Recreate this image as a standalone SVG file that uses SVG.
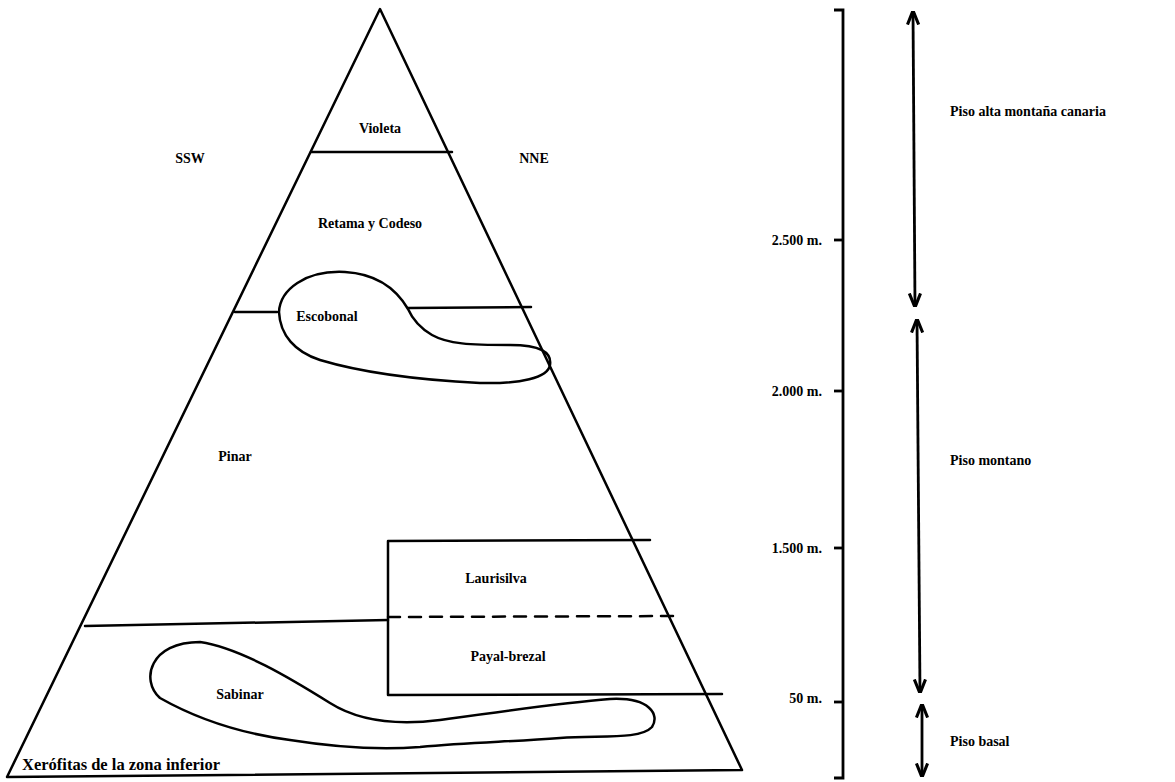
<svg xmlns="http://www.w3.org/2000/svg" width="1175" height="782" viewBox="0 0 1175 782">
<style>
.ln{fill:none;stroke:#000;stroke-width:2.5;stroke-linecap:round;stroke-linejoin:round}
.tk{fill:none;stroke:#000;stroke-width:2.8}
.t{font-family:"Liberation Serif","Times New Roman",serif;font-weight:bold;font-size:14px;fill:#000}
.m{text-anchor:middle}
.e{text-anchor:end}
</style>
<defs>
<marker id="ah" viewBox="0 0 10 10" refX="9" refY="5" markerWidth="5" markerHeight="5" orient="auto-start-reverse" markerUnits="strokeWidth">
<path d="M0,1 L10,5 L0,9" fill="none" stroke="#000" stroke-width="2.2"/>
</marker>
</defs>
<rect width="1175" height="782" fill="#fff"/>
<g id="pyramid">
<path class="ln" d="M380,9 L742,770 L7,777 Z"/>
<line class="ln" x1="311" y1="152" x2="452" y2="152"/>
<line class="ln" x1="235" y1="312" x2="277" y2="312"/>
<line class="ln" x1="408" y1="308" x2="531" y2="307"/>
<path class="ln" d="M408,309 C398,292 380,274 345,272 C305,270 280,290 279,312 C280,335 295,352 320,360 C360,372 420,380 480,383 C520,384 548,378 550,365 C552,352 540,345 510,345 C470,345 448,344 432,335 C420,328 412,318 408,309 Z"/>
<line class="ln" x1="85" y1="626" x2="388" y2="620"/>
<line class="ln" x1="388" y1="617" x2="680" y2="616" stroke-dasharray="12,9"/>
<path class="ln" d="M650,540 L388,541 L388,695 L722,694"/>
<path class="ln" d="M200,642 C240,648 290,678 330,703 C360,722 400,725 440,720 C490,713 560,703 610,699 C650,697 660,715 652,727 C640,740 600,735 560,738 C510,742 470,742 420,747 C380,750 340,748 290,740 C230,732 190,715 160,698 C140,680 150,642 200,642 Z"/>
</g>
<g id="labels">
<text class="t m" x="380" y="133">Violeta</text>
<text class="t m" x="190" y="163">SSW</text>
<text class="t m" x="534" y="163">NNE</text>
<text class="t m" x="370" y="228">Retama y Codeso</text>
<text class="t m" x="327" y="321">Escobonal</text>
<text class="t m" x="235" y="461">Pinar</text>
<text class="t m" x="496" y="583">Laurisilva</text>
<text class="t m" x="508" y="661">Payal-brezal</text>
<text class="t m" x="240" y="699">Sabinar</text>
<text class="t" x="22" y="770" style="font-size:16.5px">Xerófitas de la zona inferior</text>
</g>
<g id="scale">
<path class="tk" d="M834,10 L843,10 L843,778 L834,778"/>
<line class="tk" x1="834" y1="240" x2="843" y2="240"/>
<line class="tk" x1="834" y1="391" x2="843" y2="391"/>
<line class="tk" x1="834" y1="548" x2="843" y2="548"/>
<line class="tk" x1="834" y1="702" x2="843" y2="702"/>
<text class="t e" x="822" y="245">2.500 m.</text>
<text class="t e" x="822" y="396">2.000 m.</text>
<text class="t e" x="822" y="553">1.500 m.</text>
<text class="t e" x="822" y="703">50 m.</text>
</g>
<g id="connectors">
<line class="tk" x1="913" y1="12" x2="915" y2="306" marker-start="url(#ah)" marker-end="url(#ah)"/>
<line class="tk" x1="917" y1="320" x2="920" y2="692" marker-start="url(#ah)" marker-end="url(#ah)"/>
<line class="tk" x1="922" y1="705" x2="922" y2="776" marker-start="url(#ah)" marker-end="url(#ah)"/>
</g>
<g id="zones">
<text class="t" x="950" y="116">Piso alta montaña canaria</text>
<text class="t" x="950" y="465">Piso montano</text>
<text class="t" x="950" y="746">Piso basal</text>
</g>
</svg>
